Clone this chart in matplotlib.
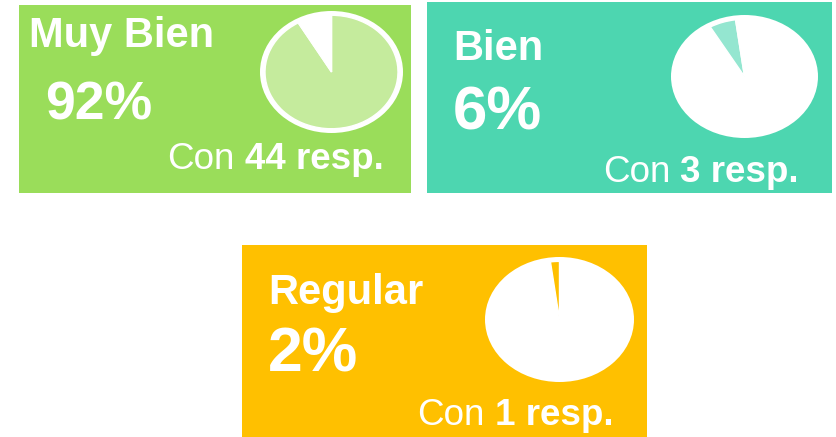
import matplotlib
matplotlib.use('Agg')
import matplotlib.pyplot as plt
from matplotlib.patches import Ellipse

plt.rcParams['font.family'] = ['Liberation Sans', 'DejaVu Sans']

# data
labels = ['Muy Bien', 'Bien', 'Regular']
counts = [44, 3, 1]
bg_colors = ['#9ADD5A', '#4DD6B0', '#FFC000']
slice_colors = ['#C5EB9D', '#94E6D0', '#FFC000']

W, H = 836, 437
fig = plt.figure(figsize=(W / 100, H / 100), dpi=100)
fig.patch.set_facecolor('white')

def rect(x0, y0, x1, y1):
    # pixel box (top-left origin) -> figure fraction
    return [x0 / W, 1 - y1 / H, (x1 - x0) / W, (y1 - y0) / H]

def fx(x):
    return x / W

def fy(y):
    return 1 - y / H

# layout: panel box, pie box, text anchors (pixels)
panels = [(19, 5, 411, 193), (427, 2, 832, 193), (242, 245, 647, 437)]
pies = [(260, 11, 403, 133), (671, 15, 818, 138), (485, 257, 634, 382)]
title_pos = [(29, 47), (453, 60), (268, 304)]
title_size = [30, 30, 30]
pct_pos = [(45, 119), (453, 130), (268, 372)]
pct_size = [38.5, 44.5, 45]
con_pos = [(167, 169), (603, 182), (417, 425)]
bold_x = [245, 680, 495]

total = sum(counts)

for i in range(len(labels)):
    ax = fig.add_axes(rect(*panels[i]))
    ax.set_facecolor(bg_colors[i])
    ax.set_xticks([])
    ax.set_yticks([])
    for s in ax.spines.values():
        s.set_visible(False)

    pax = fig.add_axes(rect(*pies[i]))
    pax.add_patch(Ellipse((0, 0), 2, 2, facecolor='white', edgecolor='none'))
    cols = ['white'] * len(counts)
    cols[i] = slice_colors[i]
    pax.pie(counts, colors=cols, startangle=90, counterclock=False, radius=0.93,
            wedgeprops=dict(edgecolor='white', linewidth=1))
    pax.set_aspect('auto')
    pax.set_xlim(-1, 1)
    pax.set_ylim(-1, 1)
    pax.axis('off')

    pct = round(100 * counts[i] / total)
    fig.text(fx(title_pos[i][0]), fy(title_pos[i][1]), labels[i], color='white',
             fontsize=title_size[i], fontweight='bold', va='baseline', ha='left')
    fig.text(fx(pct_pos[i][0]), fy(pct_pos[i][1]), f'{pct}%', color='white',
             fontsize=pct_size[i], fontweight='bold', va='baseline', ha='left')
    fig.text(fx(con_pos[i][0]), fy(con_pos[i][1]), 'Con', color='white',
             fontsize=26.5, va='baseline', ha='left')
    fig.text(fx(bold_x[i]), fy(con_pos[i][1]), f'{counts[i]} resp.', color='white',
             fontsize=26.5, fontweight='bold', va='baseline', ha='left')

fig.savefig('out.png', dpi=100)
